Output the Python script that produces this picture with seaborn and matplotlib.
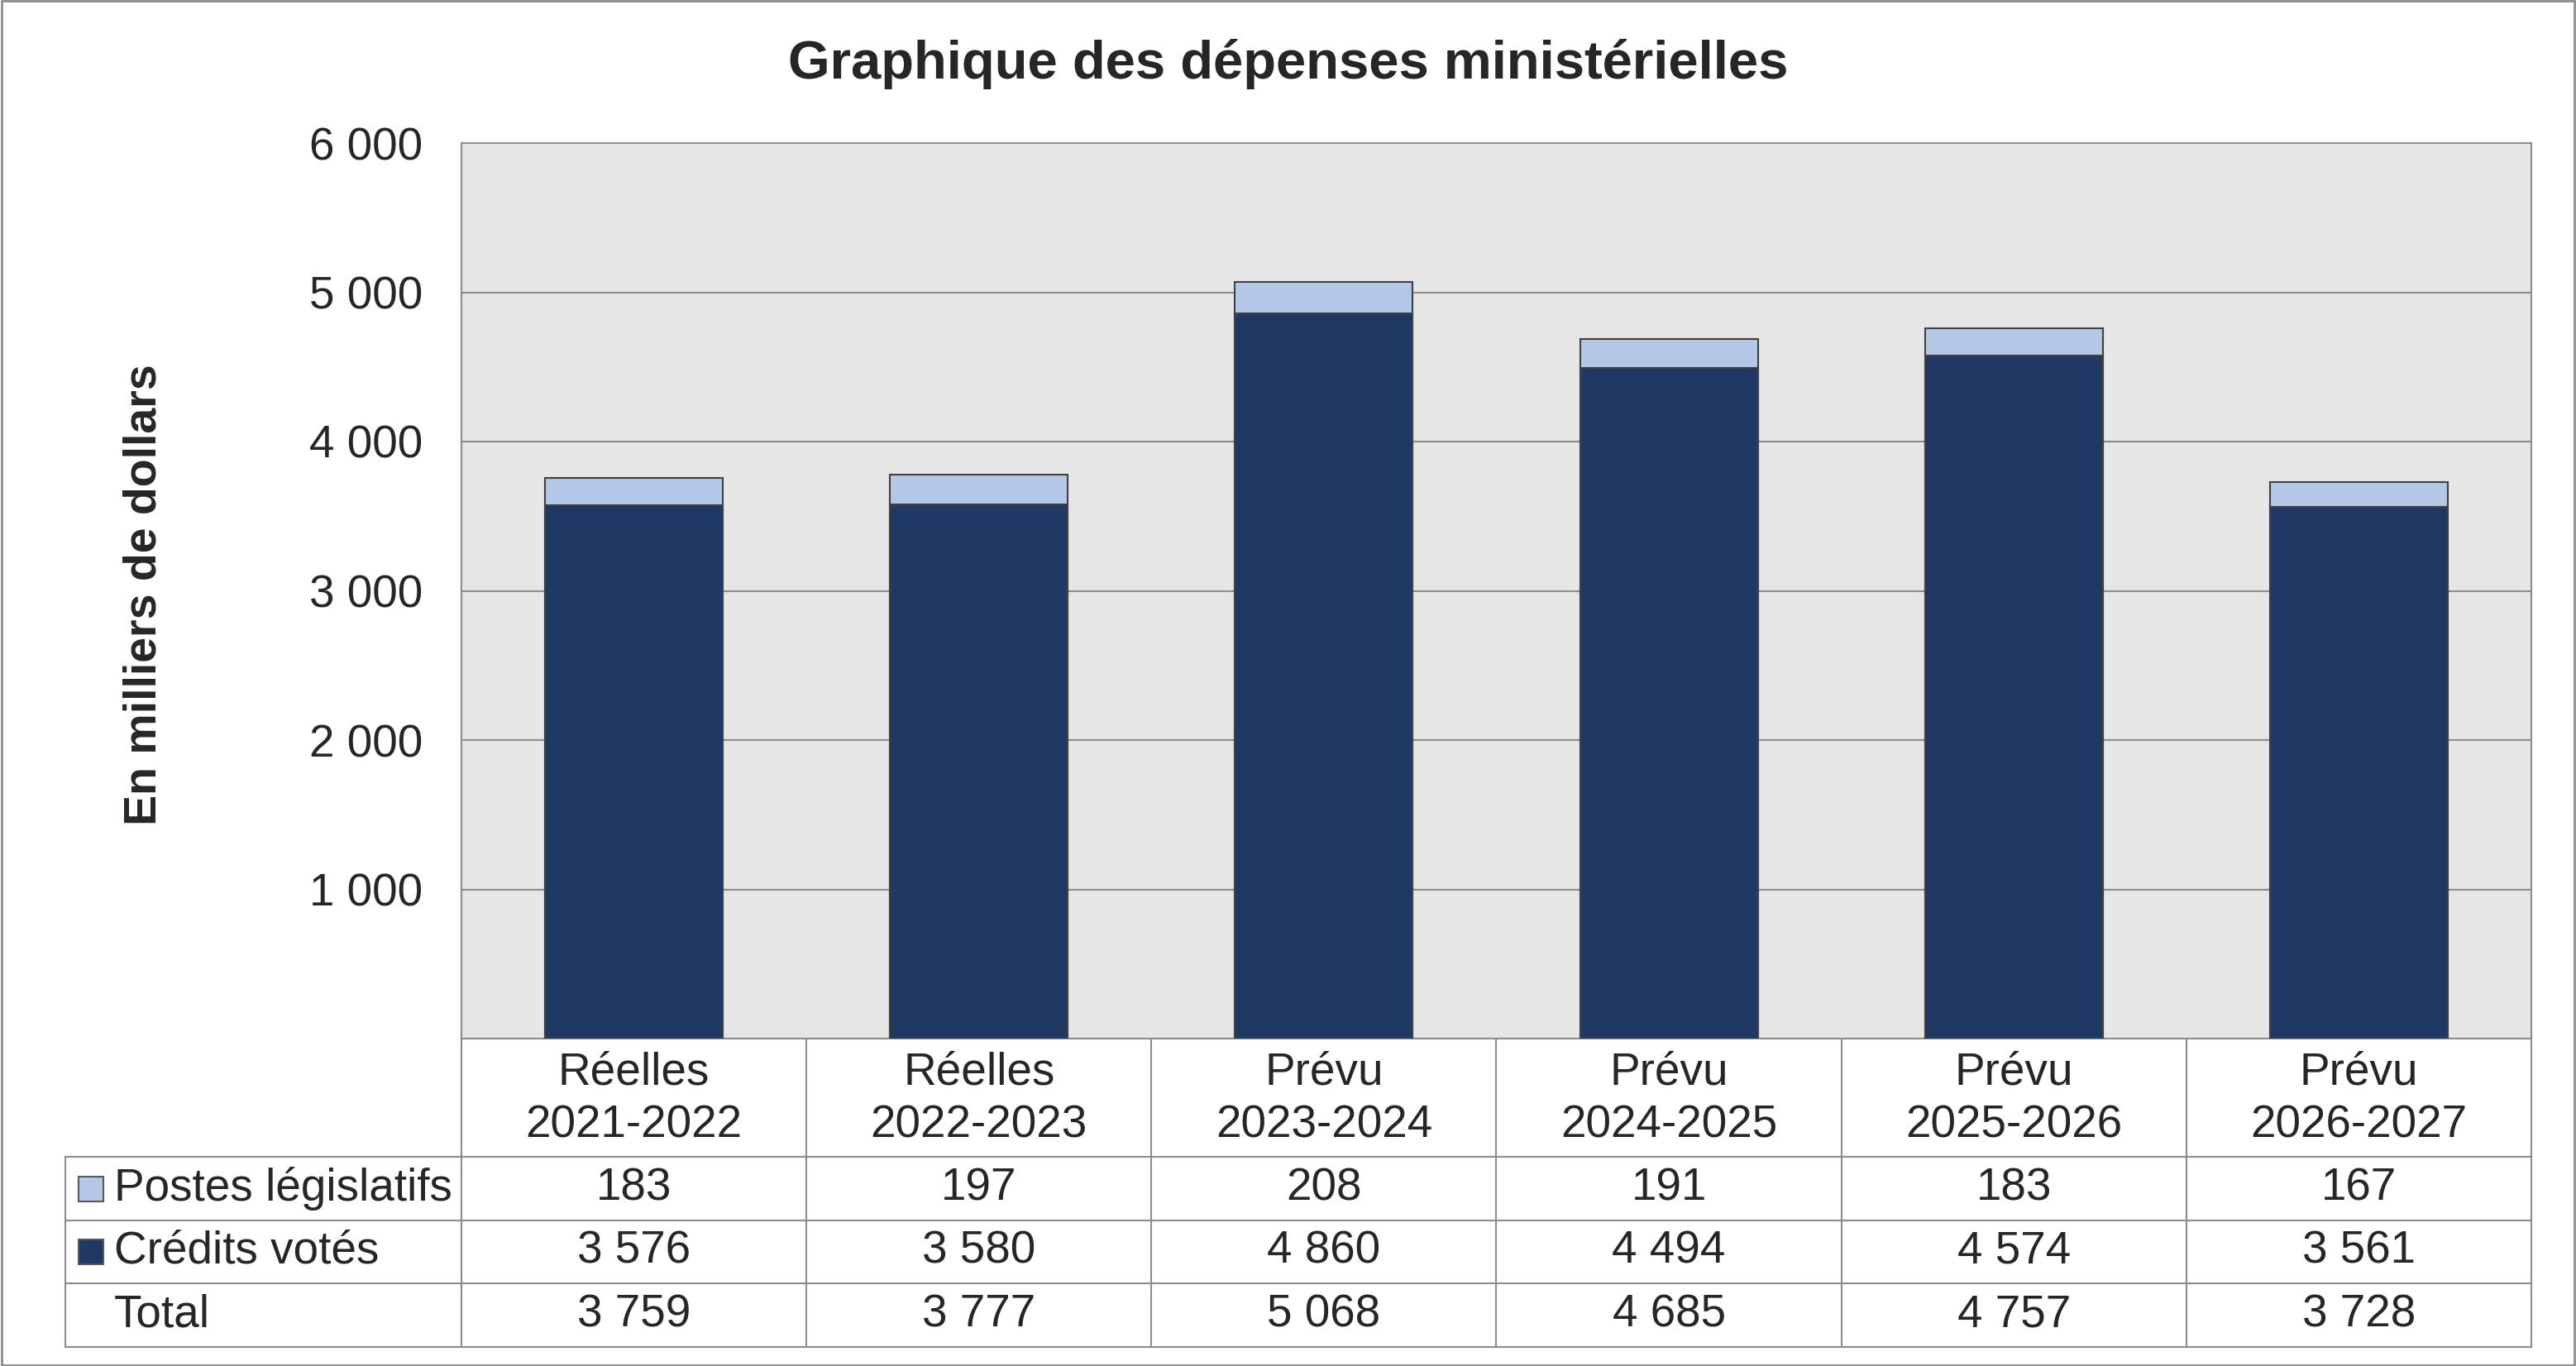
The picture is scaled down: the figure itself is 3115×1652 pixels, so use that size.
import numpy as np
import pandas as pd
import matplotlib
matplotlib.use("Agg")
import matplotlib.pyplot as plt
from matplotlib.lines import Line2D
from matplotlib.patches import Rectangle
import seaborn as sns

# Data (thousands of dollars)
periods = ["Réelles\n2021-2022", "Réelles\n2022-2023", "Prévu\n2023-2024",
           "Prévu\n2024-2025", "Prévu\n2025-2026", "Prévu\n2026-2027"]
postes_legislatifs = [183, 197, 208, 191, 183, 167]
credits_votes = [3576, 3580, 4860, 4494, 4574, 3561]
totals = [3759, 3777, 5068, 4685, 4757, 3728]
y_ticks = [1000, 2000, 3000, 4000, 5000, 6000]

def fmt(v):
    return f"{v:,}".replace(",", " ")

df = pd.DataFrame({"periode": periods, "credits": credits_votes,
                   "postes": postes_legislatifs, "total": totals})

sns.set_style("white")
plt.rcParams["font.family"] = ["Liberation Sans", "DejaVu Sans"]

W, H = 3115, 1652
fig = plt.figure(figsize=(W / 100, H / 100), dpi=100)

def fx(px):
    return px / W

def fy(py):
    return 1 - py / H

LIGHT = "#b4c7e7"
DARK = "#203864"
EDGE = "#404040"
GRID = "#8c8c8c"

# plot area in pixels
L, R, T, B = 558, 3061, 173, 1256
ax = fig.add_axes([fx(L), fy(B), fx(R - L), (B - T) / H])
ax.set_facecolor("#e6e6e6")

# stacked bars: draw total (light), then votes (dark) on top of it
sns.barplot(data=df, x="periode", y="total", color=LIGHT, saturation=1,
            width=0.515, edgecolor=EDGE, linewidth=1.5, ax=ax, zorder=3)
sns.barplot(data=df, x="periode", y="credits", color=DARK, saturation=1,
            width=0.515, edgecolor=EDGE, linewidth=1.5, ax=ax, zorder=4)

ax.set_xlim(-0.5, len(periods) - 0.5)
ax.set_ylim(0, 6000)
ax.set_yticks(y_ticks)
ax.set_yticklabels([fmt(v) for v in y_ticks], fontsize=39.5)
ax.tick_params(axis="y", length=0, pad=34)
ax.set_xticks([])
ax.set_xlabel("")
ax.set_ylabel("")
for v in y_ticks[:-1]:
    ax.axhline(v, color=GRID, lw=1.5, zorder=1)
for s in ax.spines.values():
    s.set_color(GRID)
    s.set_linewidth(1.5)

fig.text(fx(175), fy(719), "En milliers de dollars", rotation=90,
         ha="center", va="center", fontsize=40, fontweight="bold")
fig.text(0.5, fy(78), "Graphique des dépenses ministérielles",
         ha="center", va="center", fontsize=47, fontweight="bold")

# data table under the plot
row_edges = [B, 1399, 1476, 1552, 1629]
TL = 79
ncol = len(periods)
col_w = (R - L) / ncol
col_edges = [L + i * col_w for i in range(ncol + 1)]

def hline(y, x0, x1):
    fig.add_artist(Line2D([fx(x0), fx(x1)], [fy(y), fy(y)], color=GRID, lw=1.5))

def vline(x, y0, y1):
    fig.add_artist(Line2D([fx(x), fx(x)], [fy(y0), fy(y1)], color=GRID, lw=1.5))

for y in row_edges[1:]:
    hline(y, TL, R)
for x in col_edges:
    vline(x, B, row_edges[-1])
vline(TL, row_edges[1], row_edges[-1])

for i, p in enumerate(periods):
    cx = (col_edges[i] + col_edges[i + 1]) / 2
    top, bot = p.split("\n")
    fig.text(fx(cx), fy(1297), top, ha="center", va="center", fontsize=39.5)
    fig.text(fx(cx), fy(1361), bot, ha="center", va="center", fontsize=39.5)

rows = [("Postes législatifs", postes_legislatifs, LIGHT),
        ("Crédits votés", credits_votes, DARK),
        ("Total", totals, None)]
for r, (name, vals, col) in enumerate(rows):
    cy = (row_edges[r + 1] + row_edges[r + 2]) / 2
    if col is not None:
        fig.add_artist(Rectangle((fx(95), fy(cy + 15)), fx(30), 30 / H,
                                 facecolor=col, edgecolor="#595959", lw=1.5))
    fig.text(fx(138), fy(cy), name, ha="left", va="center", fontsize=39.5)
    for i, v in enumerate(vals):
        cx = (col_edges[i] + col_edges[i + 1]) / 2
        fig.text(fx(cx), fy(cy), fmt(v), ha="center", va="center", fontsize=39.5)

# outer frame
fig.add_artist(Rectangle((0.0005, 0.0008), 0.999, 0.9985, fill=False,
                         edgecolor="#8c8c8c", lw=2, transform=fig.transFigure))

fig.savefig("out.png", dpi=100)
